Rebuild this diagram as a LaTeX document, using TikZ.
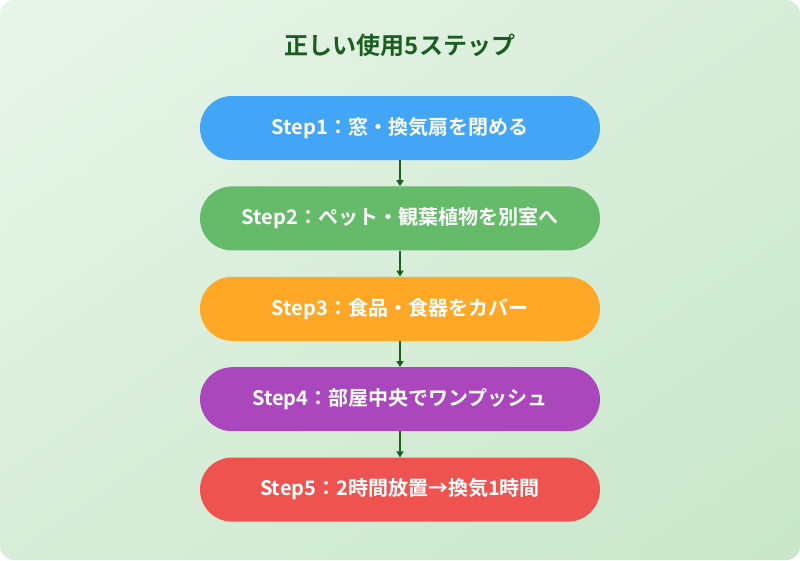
\documentclass[tikz,border=0pt]{standalone}
\usepackage{fontspec}
\setmainfont{Noto Sans CJK JP}[BoldFont={Noto Sans CJK JP Bold}]
\usetikzlibrary{positioning,arrows.meta,shadings}
\definecolor{bgA}{HTML}{E8F5E9}
\definecolor{bgB}{HTML}{C8E6C9}
\definecolor{ttl}{HTML}{1B5E20}
\definecolor{cA}{HTML}{42A5F5}
\definecolor{cB}{HTML}{66BB6A}
\definecolor{cC}{HTML}{FFA726}
\definecolor{cD}{HTML}{AB47BC}
\definecolor{cE}{HTML}{EF5350}
\tikzset{
  stepbox/.style={rounded corners=32pt,minimum width=400pt,minimum height=64pt,
    text=white,font=\bfseries\fontsize{20}{24}\selectfont,inner sep=0pt},
  link/.style={-{Triangle[length=6pt,width=7pt]},draw=ttl,line width=1.6pt}
}
\begin{document}
\begin{tikzpicture}[x=1pt,y=-1pt,node distance=26pt]
\shade[upper left=bgA,upper right=bgA!50!bgB,lower left=bgA!50!bgB,lower right=bgB,rounded corners=14pt] (0,0) rectangle (800,560);
\useasboundingbox (0,0) rectangle (800,560);

\node[text=ttl,font=\bfseries\fontsize{24}{28}\selectfont] (title) at (400,45) {正しい使用5ステップ};

\node[stepbox,fill=cA] (s1) at (400,128) {Step1：窓・換気扇を閉める};
\node[stepbox,fill=cB] (s2) [below=of s1] {Step2：ペット・観葉植物を別室へ};
\node[stepbox,fill=cC] (s3) [below=of s2] {Step3：食品・食器をカバー};
\node[stepbox,fill=cD] (s4) [below=of s3] {Step4：部屋中央でワンプッシュ};
\node[stepbox,fill=cE] (s5) [below=of s4] {Step5：2時間放置→換気1時間};

\foreach \a/\b in {s1/s2,s2/s3,s3/s4,s4/s5}
  \draw[link] (\a) -- (\b);
\end{tikzpicture}
\end{document}
